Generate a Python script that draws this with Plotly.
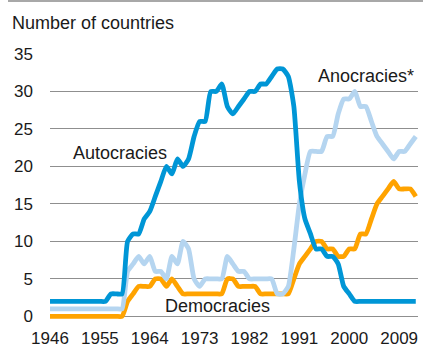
import plotly.graph_objects as go

# Number of countries by regime type, 1946-2012
years = list(range(1946, 2013))

autocracies = (
    [2] * 11
    + [3, 3, 3]
    + [10, 11, 11, 13, 14, 16, 18, 20, 19, 21, 20, 21, 24, 26, 26, 30, 30, 31, 28, 27,
       28, 29, 30, 30, 31, 31, 32, 33, 33, 32, 28, 18, 13, 11, 9, 9, 8, 8, 7, 4, 3]
    + [2] * 12
)

anocracies = (
    [1] * 14
    + [6, 7, 8, 7, 8, 6, 6, 5, 8, 7, 10, 9, 5, 4, 5, 5, 5, 5, 8, 7,
       6, 6, 5, 5, 5, 5, 5, 3, 3, 4, 9, 15, 19, 22, 22, 22, 24, 24, 27, 29,
       29, 30, 28, 28, 26, 24, 23, 22, 21, 22, 22, 23, 24]
)

democracies = (
    [0] * 14
    + [2, 3, 4, 4, 4, 5, 5, 4, 5, 4, 3, 3, 3, 3, 3, 3, 3, 3, 5, 5,
       4, 4, 4, 4, 3, 3, 3, 3, 3, 3, 5, 7, 8, 9, 10, 10, 9, 9, 8, 8,
       9, 9, 11, 11, 13, 15, 16, 17, 18, 17, 17, 17, 16]
)

x_ticks = [1946, 1955, 1964, 1973, 1982, 1991, 2000, 2009]
y_ticks = [0, 5, 10, 15, 20, 25, 30, 35]

series = [
    ("Democracies", democracies, "#ffa300"),
    ("Anocracies*", anocracies, "#b5d5f0"),
    ("Autocracies", autocracies, "#0096d6"),
]

FONT = "Liberation Sans, Arial, sans-serif"
TEXT = "#1a1a1a"

fig = go.Figure()
for name, vals, color in series:
    fig.add_trace(go.Scatter(
        x=years, y=vals, name=name, mode="lines",
        line=dict(color=color, width=4.8, shape="spline", smoothing=0.5),
        hoverinfo="skip",
    ))

W, H = 423, 345
L, R, T, B = 50, 5, 54, 26
pw, ph = W - L - R, H - T - B


def px(x):
    return (x - L) / pw


def py(y):
    return (H - B - y) / ph


labels = [
    ("Number of countries", 10, 23, 18),
    ("Autocracies", 71, 153, 18),
    ("Anocracies*", 316, 76, 18),
    ("Democracies", 163, 306, 18),
]
annotations = [
    dict(text=t, x=px(x), y=py(y), xref="paper", yref="paper",
         xanchor="left", yanchor="middle", showarrow=False,
         font=dict(family=FONT, size=s, color=TEXT))
    for t, x, y, s in labels
]

fig.update_layout(
    width=W, height=H,
    margin=dict(l=L, r=R, t=T, b=B, pad=0, autoexpand=False),
    paper_bgcolor="white", plot_bgcolor="white",
    showlegend=False,
    annotations=annotations,
    shapes=[dict(type="line", xref="paper", yref="paper",
                 x0=px(8), x1=px(W), y0=py(1), y1=py(1),
                 line=dict(color="#a8a8a8", width=2))],
    xaxis=dict(
        range=[1946, 2012.4], tickmode="array", tickvals=x_ticks,
        ticktext=[str(v) for v in x_ticks],
        showgrid=False, zeroline=False, showline=False, ticks="",
        tickfont=dict(family=FONT, size=17, color=TEXT),
        ticklabelstandoff=7, automargin=False,
    ),
    yaxis=dict(
        range=[-0.35, 35], tickmode="array", tickvals=y_ticks,
        showgrid=True, gridcolor="#8f8f8f", gridwidth=1,
        zeroline=False, showline=False, ticks="",
        tickfont=dict(family=FONT, size=17, color=TEXT),
        ticklabelstandoff=16, automargin=False,
    ),
)

fig.write_html("out.html")
